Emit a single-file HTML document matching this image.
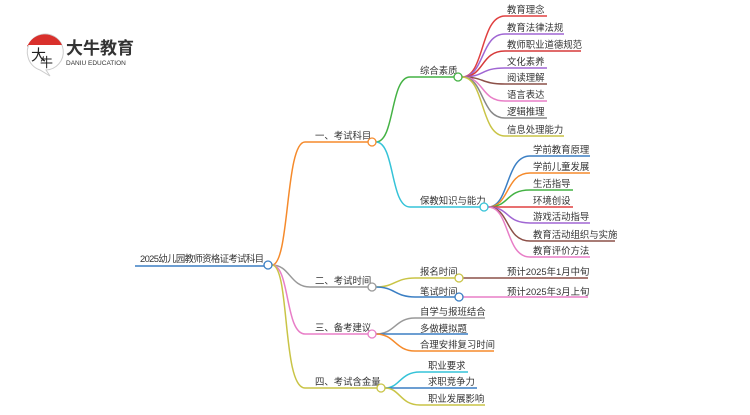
<!DOCTYPE html>
<html><head><meta charset="utf-8"><style>
body{margin:0;background:#fff;width:750px;height:410px;overflow:hidden}
svg text{font-family:"Liberation Sans","Noto Sans CJK SC",sans-serif;font-size:9.4px;fill:#333}
</style></head><body>
<svg width="750" height="410" viewBox="0 0 750 410" xmlns="http://www.w3.org/2000/svg" fill="none" stroke-width="1.5">
<g>
<path d="M28 57 A18 18 0 1 1 46 70 L50 76 L40 70 A18 18 0 0 1 28 57Z" fill="#fff" stroke="#ccc" stroke-width="1"/>
<path d="M27 47 A19 19 0 0 1 62 45 L27 45Z" fill="#d9302c" stroke="none"/>
<text x="31" y="60" style="font-size:15px;fill:#222">大</text>
<text x="40" y="67" style="font-size:13px;fill:#222">牛</text>
<text x="66" y="54" style="font-size:17px;font-weight:bold;fill:#333">大牛教育</text>
<text x="66" y="65" style="font-size:6.5px;fill:#333">DANIU EDUCATION</text>
</g>
<path d="M135 266 H264" stroke="#3b7fc4"/>
<text x="140" y="262" textLength="124">2025幼儿园教师资格证考试科目</text>
<path d="M272 265 C290 265 285 142 305 142 H368" stroke="#f58a2b"/>
<path d="M272 265 C290 265 290 287 310 287 H368" stroke="#999"/>
<path d="M272 265 C290 265 285 334 305 334 H368" stroke="#e87ec7"/>
<path d="M272 265 C290 265 282 388 305 388 H377" stroke="#c9c446"/>
<text x="315" y="139">一、考试科目</text>
<text x="315" y="284">二、考试时间</text>
<text x="315" y="331">三、备考建议</text>
<text x="315" y="385">四、考试含金量</text>
<path d="M376 142 C395 142 390 77 410 77 H454" stroke="#44b244"/>
<path d="M376 142 C395 142 390 207 410 207 H480" stroke="#35c3d8"/>
<text x="420" y="74">综合素质</text>
<text x="420" y="204">保教知识与能力</text>
<g>
<path d="M462 77 C485 77 480 16 505 16 H547" stroke="#e04040"/>
<path d="M462 77 C485 77 480 34 505 34 H564" stroke="#a066d3"/>
<path d="M462 77 C485 77 480 51 505 51 H581" stroke="#d63a3a"/>
<path d="M462 77 C485 77 480 68 505 68 H547" stroke="#a066d3"/>
<path d="M462 77 C485 77 480 84 505 84 H547" stroke="#8c5048"/>
<path d="M462 77 C485 77 480 101 505 101 H547" stroke="#e87ec7"/>
<path d="M462 77 C485 77 480 118 505 118 H547" stroke="#888"/>
<path d="M462 77 C485 77 480 136 505 136 H564" stroke="#c9c446"/>
</g>
<text x="507" y="13">教育理念</text>
<text x="507" y="31">教育法律法规</text>
<text x="507" y="48">教师职业道德规范</text>
<text x="507" y="65">文化素养</text>
<text x="507" y="81">阅读理解</text>
<text x="507" y="98">语言表达</text>
<text x="507" y="115">逻辑推理</text>
<text x="507" y="133">信息处理能力</text>
<path d="M488 207 C510 207 505 156 530 156 H590" stroke="#3b7fc4"/>
<path d="M488 207 C510 207 505 173 530 173 H590" stroke="#f58a2b"/>
<path d="M488 207 C510 207 505 190 530 190 H573" stroke="#44b244"/>
<path d="M488 207 H573" stroke="#e04040"/>
<path d="M488 207 C510 207 505 223 530 223 H590" stroke="#a066d3"/>
<path d="M488 207 C510 207 505 241 530 241 H615" stroke="#8c5048"/>
<path d="M488 207 C510 207 505 257 530 257 H590" stroke="#e87ec7"/>
<text x="533" y="153">学前教育原理</text>
<text x="533" y="170">学前儿童发展</text>
<text x="533" y="187">生活指导</text>
<text x="533" y="204">环境创设</text>
<text x="533" y="220">游戏活动指导</text>
<text x="533" y="238">教育活动组织与实施</text>
<text x="533" y="254">教育评价方法</text>
<path d="M376 287 C395 287 395 278 415 278 H455" stroke="#c9c446"/>
<path d="M376 287 C395 287 395 297 415 297 H455" stroke="#3b7fc4"/>
<text x="420" y="275">报名时间</text>
<text x="420" y="295">笔试时间</text>
<path d="M463 278 H588" stroke="#8c5048"/>
<path d="M463 297 H588" stroke="#e87ec7"/>
<text x="507" y="275">预计2025年1月中旬</text>
<text x="507" y="295">预计2025年3月上旬</text>
<path d="M376 334 C395 334 395 318 415 318 H485" stroke="#999"/>
<path d="M376 334 H468" stroke="#3b7fc4"/>
<path d="M376 334 C395 334 395 351 415 351 H494" stroke="#f58a2b"/>
<text x="420" y="315">自学与报班结合</text>
<text x="420" y="332">多做模拟题</text>
<text x="420" y="348">合理安排复习时间</text>
<path d="M385 388 C400 388 400 372 420 372 H468" stroke="#35c3d8"/>
<path d="M385 388 H477" stroke="#3b7fc4"/>
<path d="M385 388 C400 388 400 405 420 405 H485" stroke="#c9c446"/>
<text x="428" y="369">职业要求</text>
<text x="428" y="385">求职竞争力</text>
<text x="428" y="402">职业发展影响</text>
<g fill="#fff" stroke-width="1.3">
<circle cx="268" cy="265" r="4" stroke="#3b7fc4"/>
<circle cx="372" cy="142" r="4" stroke="#f58a2b"/>
<circle cx="372" cy="287" r="4" stroke="#999"/>
<circle cx="372" cy="334" r="4" stroke="#e87ec7"/>
<circle cx="381" cy="388" r="4" stroke="#c9c446"/>
<circle cx="458" cy="77" r="4" stroke="#44b244"/>
<circle cx="484" cy="207" r="4" stroke="#35c3d8"/>
<circle cx="459" cy="278" r="4" stroke="#c9c446"/>
<circle cx="459" cy="297" r="4" stroke="#3b7fc4"/>
</g>
</svg>
</body></html>
